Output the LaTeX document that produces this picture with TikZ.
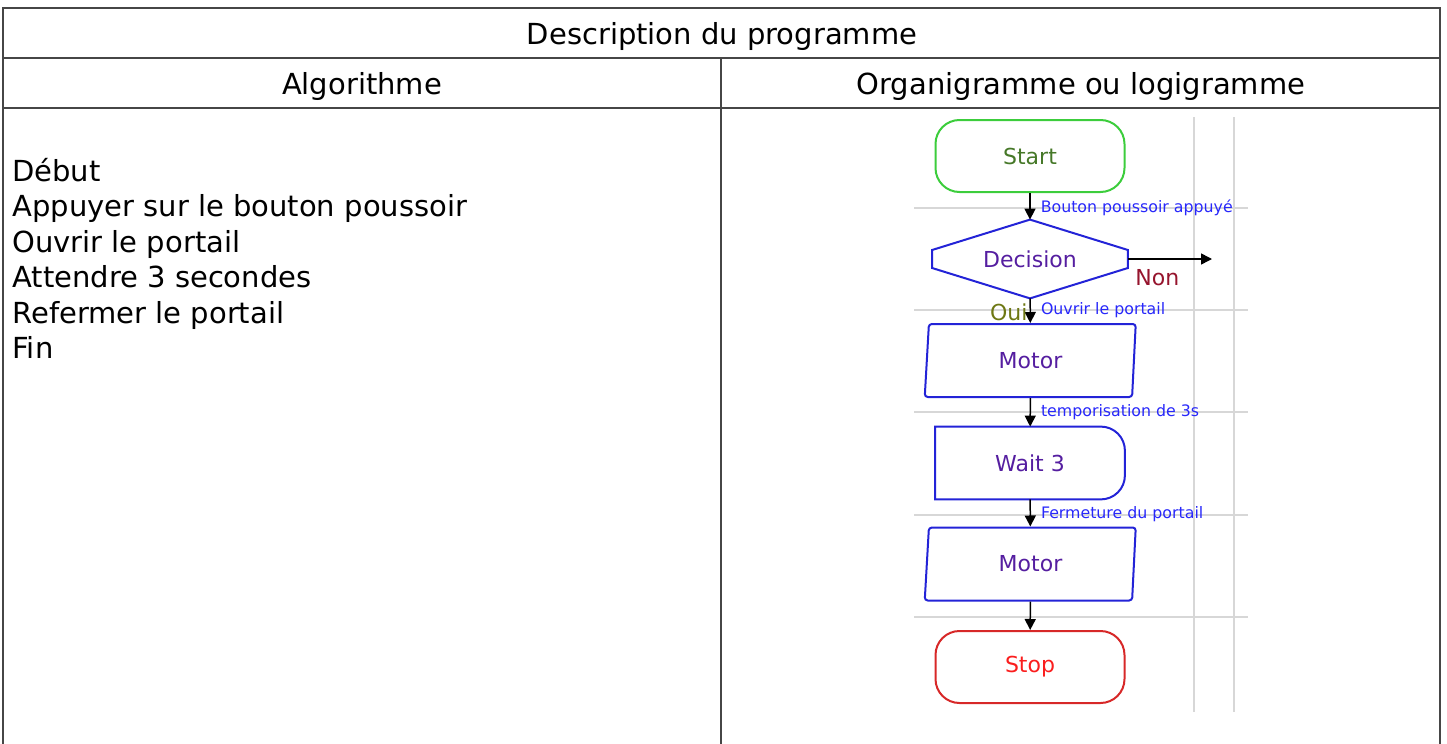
\documentclass[tikz,border=0pt]{standalone}
\usepackage{fontspec}
\setmainfont{DejaVu Sans}
\usetikzlibrary{arrows.meta,shapes.geometric}

\definecolor{tblline}{RGB}{70,70,70}
\definecolor{gridgray}{RGB}{215,215,215}
\definecolor{startgreen}{RGB}{60,205,60}
\definecolor{starttxt}{RGB}{70,120,40}
\definecolor{stopred}{RGB}{215,40,40}
\definecolor{stoptxt}{RGB}{250,30,30}
\definecolor{boxblue}{RGB}{35,35,215}
\definecolor{boxtxt}{RGB}{85,30,160}
\definecolor{lblblue}{RGB}{40,40,250}
\definecolor{nontxt}{RGB}{150,20,45}
\definecolor{ouitxt}{RGB}{110,120,20}

\tikzset{
  tbl/.style = {draw = tblline, line width = .6pt},
  grid/.style = {draw = gridgray, line width = 1.2pt},
  cell/.style = {font = \fontsize{14.5}{17.75}\selectfont, inner sep = 0pt},
  terminal/.style = {rectangle, rounded corners = 12pt, line width = 1pt,
    minimum width = 94.5pt, minimum height = 36pt,
    font = \fontsize{11}{13}\selectfont},
  decnode/.style = {rectangle, inner sep = 0pt, minimum width = 97.5pt,
    minimum height = 39pt, text = boxtxt, font = \fontsize{11}{13}\selectfont},
  decline/.style = {draw = boxblue, line width = 1pt},
  iobox/.style = {trapezium, trapezium left angle = 82, trapezium right angle = 97,
    trapezium stretches body = true, draw = boxblue, line width = 1pt,
    rounded corners = 1.5pt, minimum width = 105.5pt, minimum height = 36.5pt,
    text = boxtxt, font = \fontsize{11}{13}\selectfont},
  waitnode/.style = {rectangle, inner sep = 0pt, minimum width = 94.5pt,
    minimum height = 36pt, text = boxtxt, font = \fontsize{11}{13}\selectfont},
  flow/.style = {draw = black, line width = .75pt, -{Triangle[length = 5.5pt, width = 5.5pt]}},
  lbl/.style = {text = lblblue, font = \fontsize{7.9}{9}\selectfont, inner sep = 1pt}
}

\begin{document}
\begin{tikzpicture}
  [x = .5pt, y = -.5pt]

  \useasboundingbox (0,0) rectangle (1447,744);

  % table
  \draw[tbl] (3,744) -- (3,8) -- (1440,8) -- (1440,744);
  \draw[tbl] (3,58) -- (1440,58);
  \draw[tbl] (3,108) -- (1440,108);
  \draw[tbl] (721,58) -- (721,744);

  \node[cell, anchor = base] (titre) at (722,44) {Description du programme};
  \node[cell, anchor = base] (algo) at (362,94) {Algorithme};
  \node[cell, anchor = base] (orga) at (1081,94) {Organigramme ou logigramme};

  \foreach \txt [count = \i] in {Début, Appuyer sur le bouton poussoir,
      Ouvrir le portail, Attendre 3 secondes, Refermer le portail, Fin}
    \node[cell, anchor = base west] (ligne\i) at (12, 145.5 + 35.5*\i) {\txt};

  % grille
  \foreach \y in {208, 310, 412, 515, 617}
    \draw[grid] (914,\y) -- (1248,\y);
  \foreach \x in {1194, 1234}
    \draw[grid] (\x,117) -- (\x,712);

  % organigramme
  \node[terminal, draw = startgreen, text = starttxt] (start) at (1030,156) {Start};
  \node[decnode] (dec) at (1030,259) {Decision};
  \draw[decline] (dec.north) -- ([yshift = 4.5pt]dec.east) -- ([yshift = -4.5pt]dec.east)
    -- (dec.south) -- ([yshift = -4.5pt]dec.west) -- ([yshift = 4.5pt]dec.west) -- cycle;
  \coordinate (non) at (1212,259);
  \node[iobox] (motor1) at (1030.5,360.5) {Motor};
  \node[waitnode] (wait) at (1030,463) {Wait 3};
  \draw[decline] (wait.south west) -- (wait.north west)
    -- ([xshift = -12pt]wait.north east) arc[start angle = 90, end angle = 0, radius = 12pt]
    -- ([yshift = 12pt]wait.south east) arc[start angle = 0, end angle = -90, radius = 12pt]
    -- cycle;
  \node[iobox] (motor2) at (1030.5,564) {Motor};
  \node[terminal, draw = stopred, text = stoptxt] (stop) at (1030,667) {Stop};

  \draw[flow] (start) -- node[lbl, pos = .55, right = 4pt] {Bouton poussoir appuyé} (dec);
  \draw[flow] (dec) -- node[pos = .35, below = 4pt, text = nontxt,
    font = \fontsize{11}{13}\selectfont, inner sep = 1pt] {Non} (non);
  \draw[flow] (dec) -- node[lbl, pos = .46, right = 4pt] {Ouvrir le portail}
    node[pos = .58, left = 0pt, text = ouitxt, font = \fontsize{11}{13}\selectfont,
    inner sep = 1pt] {Oui} (motor1);
  \draw[flow] (motor1) -- node[lbl, pos = .5, right = 4pt] {temporisation de 3s} (wait);
  \draw[flow] (wait) -- node[lbl, pos = .55, right = 4pt] {Fermeture du portail} (motor2);
  \draw[flow] (motor2) -- (stop);
\end{tikzpicture}
\end{document}
